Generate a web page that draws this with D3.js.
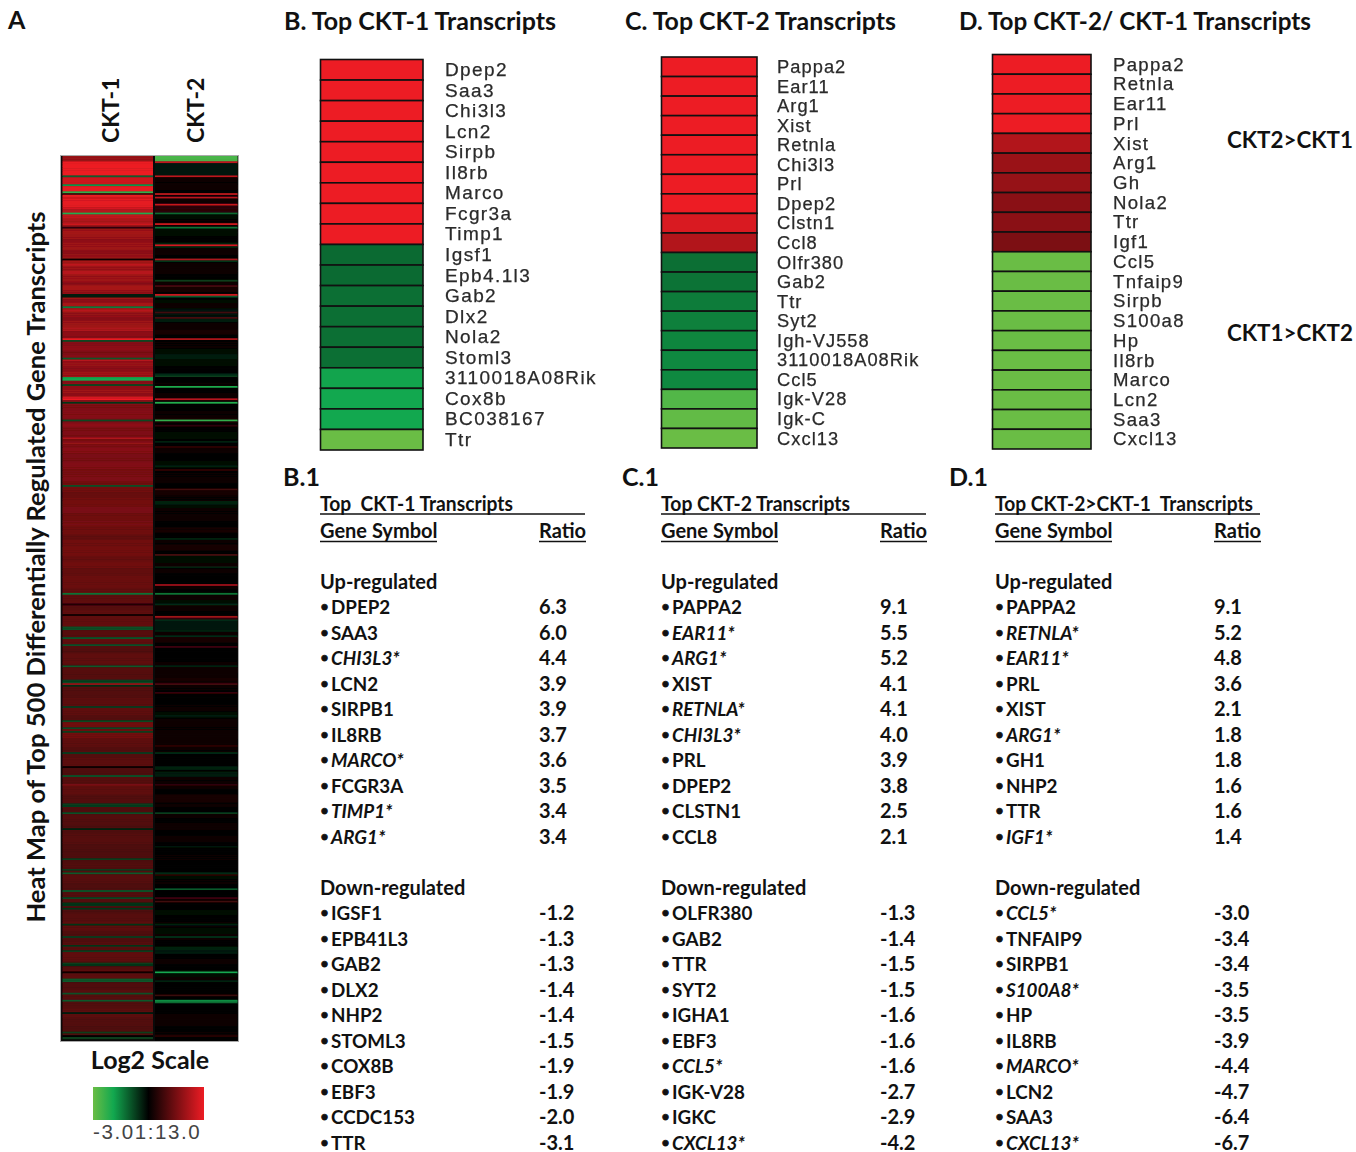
<!DOCTYPE html>
<html><head><meta charset="utf-8">
<script src="https://cdnjs.cloudflare.com/ajax/libs/d3/7.8.5/d3.min.js"></script>
<style>html,body{margin:0;background:#fff}svg{display:block}
.h{font-family:Lato,sans-serif;font-weight:700;fill:#111;white-space:pre}
.g{font-family:"Liberation Sans",sans-serif;fill:#2a2a2a;stroke:#2a2a2a;stroke-width:.25}
</style></head><body><svg id="c" width="1356" height="1152"></svg>
<script>
// Heat map: 500 transcripts, log2 values, run lengths [count, value] plus single-row streaks [row, value]
const ckt1Runs=[[3,1.9],[8,3],[5,2.6],[4,2.9],[3,3],[1,2.6],[5,2.9],[1,2.7],[3,2.3],[2,2.5],[3,2.2],[1,2.6],[3,1.9],[2,2.1],[3,2],[2,1.8],[4,2],[2,1.8],[3,1.9],[3,2.1],[1,2.4],[3,2],[2,2.3],[4,2],[2,1.8],[3,2.1],[2,1.9],[3,2],[2,1.8],[4,2.1],[1,2.3],[3,1.9],[2,1.7],[4,2],[2,2.2],[3,1.8],[5,1.7],[3,1.8],[2,1.6],[4,1.7],[3,1.9],[3,1.8],[3,2],[3,1.7],[4,1.8],[2,2],[3,1.8],[4,1.7],[3,1.6],[4,1.7],[3,1.6],[2,1.8],[5,1.6],[3,1.5],[4,1.6],[3,1.7],[5,1.55],[4,1.65],[3,1.5],[4,1.6],[6,1.45],[3,1.3],[5,1.45],[4,1.55],[4,1.4],[3,1.5],[5,1.4],[3,1.25],[4,1.4],[5,1.45],[3,1.3],[4,1.4],[4,1.25],[3,1.35],[4,1.35],[3,1.25],[6,1.2],[4,1.1],[5,1.2],[4,1.25],[6,1.1],[5,1.2],[4,1.05],[6,1.2],[4,1.1],[5,1.1],[4,1.15],[6,1.05],[5,1.15],[5,1.2],[4,1.05],[3,1.4],[6,1.45],[5,1.2],[6,1.05],[5,1.15],[6,1],[5,1.1],[5,1.2],[6,1.05],[5,1],[6,1.05],[5,1],[6,1.1],[5,1],[6,1],[5,1.05],[6,1.1],[6,1],[5,1.05],[6,1],[5,1.1],[5,1.15],[6,1],[5,1.1],[6,1.2],[5,1.05],[6,1.15],[5,1],[6,1.1],[5,1.05],[5,1.15],[5,1.05],[5,1]];
const ckt1Streaks=[[11,-1.1],[16,-1.7],[20,-2.3],[21,.9],[32,-2.1],[40,.6],[58,.2],[78,-.3],[79,-.3],[85,-1.4],[103,3],[104,-.8],[114,-1],[115,2.3],[125,-1.9],[126,-1.9],[129,-.8],[136,2.7],[137,3],[139,-.6],[149,-.8],[159,2.2],[162,1.9],[186,-.9],[247,-1.3],[253,.4],[259,.2],[266,-.9],[267,-.9],[272,-1],[276,-.9],[288,-1],[296,-.7],[297,-.8],[298,1.9],[299,-.5],[311,-.7],[319,-.8],[323,-.8],[325,-.7],[337,-.7],[345,.1],[350,-1],[355,1.5],[366,-.7],[367,-.7],[371,-.9],[380,-.4],[397,-.7],[403,-.7],[405,-1],[415,-1],[419,-.8],[422,-.6],[423,-.6],[425,-.6],[434,-.6],[441,-.7],[446,-.6],[449,-.7],[456,-.7],[457,-.6],[461,.1],[465,-1],[466,-1],[473,-.9],[477,-1],[484,-.3],[495,-.7],[498,-.7]];
const ckt2Runs=[[3,-2.6],[1,2.4],[7,-.25],[5,.1],[3,.2],[2,.05],[1,.3],[5,.15],[5,.55],[4,-.1],[4,.1],[5,-.15],[4,.05],[3,-.4],[4,.2],[3,.05],[4,.1],[4,.15],[3,.05],[4,.1],[3,.25],[4,.05],[2,-.1],[3,.1],[5,-.2],[3,-.3],[4,.1],[3,.3],[4,-.05],[4,.1],[3,-.1],[3,-.3],[4,-.1],[4,.05],[2,-.5],[3,0],[3,.1],[3,0],[2,.15],[3,.2],[5,.05],[4,.1],[3,.25],[5,.05],[4,-.1],[5,0],[3,.2],[4,.03],[3,-.1],[4,0],[3,.1],[3,.15],[3,.05],[4,.25],[3,.1],[4,-.15],[4,.1],[3,.2],[4,.05],[3,.25],[4,-.05],[3,.1],[3,.3],[3,.05],[4,-.1],[3,.2],[3,.1],[3,-.05],[3,.05],[3,.15],[3,.05],[3,.1],[3,-.1],[3,.15],[3,.05],[4,-.2],[4,-.25],[3,.1],[4,.3],[4,0],[3,-.05],[4,.02],[3,.1],[3,.2],[3,.15],[4,.25],[3,.1],[4,.05],[4,0],[4,.1],[4,-.1],[4,.15],[3,.1],[4,.2],[4,.15],[4,.1],[3,.05],[4,.02],[4,.05],[3,-.3],[3,.1],[4,.2],[3,0],[4,.3],[3,.1],[3,-.02],[3,.2],[3,.08],[4,.12],[3,.05],[4,.1],[4,-.05],[3,0],[3,.1],[4,.08],[3,-.05],[4,-.12],[3,.1],[4,.05],[3,-.03],[3,.12],[4,0],[3,-.15],[4,.02],[3,.1],[4,-.1],[3,.15],[4,-.05],[3,-.2],[4,.05],[3,.1],[3,-.02],[4,-.1],[3,.1],[4,0],[3,-.03],[4,.05],[3,.02],[4,.05],[3,.1],[4,.15],[3,.05],[3,.1],[3,.04]];
const ckt2Streaks=[[11,2.4],[21,2.4],[23,2.3],[27,2.5],[32,-1.2],[38,2.6],[40,-1.3],[50,2.7],[58,2.2],[59,-.6],[70,-.7],[73,.9],[78,2.6],[79,-1],[88,.8],[91,.9],[103,2.2],[124,-.7],[130,-2],[137,2.3],[139,-2.1],[149,-2.3],[152,.6],[161,-.4],[164,.6],[175,-.4],[177,.6],[188,.8],[195,-.4],[196,-.4],[216,-.4],[225,.9],[232,-.4],[242,2],[247,-1.3],[253,-.5],[260,2],[261,.6],[262,-.5],[268,-.4],[271,-.5],[277,.8],[288,-.4],[298,.9],[303,.7],[316,-.3],[333,.6],[337,-.5],[345,-.4],[346,-.4],[355,.6],[371,-.7],[390,-.2],[405,-.5],[406,.5],[414,-1],[419,.8],[421,.8],[434,-.4],[441,-.6],[447,-.4],[448,-.4],[450,-.3],[461,-1.9],[466,-.4],[474,.7],[477,-1.6],[478,-1.2],[497,.5]];

const panelBGenes=["Dpep2","Saa3","Chi3l3","Lcn2","Sirpb","Il8rb","Marco","Fcgr3a","Timp1","Igsf1","Epb4.1l3","Gab2","Dlx2","Nola2","Stoml3","3110018A08Rik","Cox8b","BC038167","Ttr"];
const panelBValues=[6.3,6,4.4,3.9,3.9,3.7,3.6,3.5,3.4,-1.2,-1.2,-1.25,-1.25,-1.25,-1.25,-1.85,-1.9,-1.9,-3.1];
const panelCGenes=["Pappa2","Ear11","Arg1","Xist","Retnla","Chi3l3","Prl","Dpep2","Clstn1","Ccl8","Olfr380","Gab2","Ttr","Syt2","Igh-VJ558","3110018A08Rik","Ccl5","Igk-V28","Igk-C","Cxcl13"];
const panelCValues=[9.1,5.5,5.2,4.1,4.1,4,3.9,3.8,2.75,2.25,-1.25,-1.3,-1.4,-1.45,-1.5,-1.55,-1.55,-2.7,-2.9,-4.2];
const panelDGenes=["Pappa2","Retnla","Ear11","Prl","Xist","Arg1","Gh","Nola2","Ttr","Igf1","Ccl5","Tnfaip9","Sirpb","S100a8","Hp","Il8rb","Marco","Lcn2","Saa3","Cxcl13"];
const panelDValues=[9.1,5.2,4.8,3.6,2.25,1.95,1.9,1.75,1.75,1.57,-3,-3.4,-3.4,-3.5,-3.5,-3.9,-4.4,-4.7,-6.4,-6.7];

const tableBUp=["DPEP2","SAA3","CHI3L3*","LCN2","SIRPB1","IL8RB","MARCO*","FCGR3A","TIMP1*","ARG1*"];
const tableBUpRatio=["6.3","6.0","4.4","3.9","3.9","3.7","3.6","3.5","3.4","3.4"];
const tableBDown=["IGSF1","EPB41L3","GAB2","DLX2","NHP2","STOML3","COX8B","EBF3","CCDC153","TTR"];
const tableBDownRatio=["-1.2","-1.3","-1.3","-1.4","-1.4","-1.5","-1.9","-1.9","-2.0","-3.1"];
const tableCUp=["PAPPA2","EAR11*","ARG1*","XIST","RETNLA*","CHI3L3*","PRL","DPEP2","CLSTN1","CCL8"];
const tableCUpRatio=["9.1","5.5","5.2","4.1","4.1","4.0","3.9","3.8","2.5","2.1"];
const tableCDown=["OLFR380","GAB2","TTR","SYT2","IGHA1","EBF3","CCL5*","IGK-V28","IGKC","CXCL13*"];
const tableCDownRatio=["-1.3","-1.4","-1.5","-1.5","-1.6","-1.6","-1.6","-2.7","-2.9","-4.2"];
const tableDUp=["PAPPA2","RETNLA*","EAR11*","PRL","XIST","ARG1*","GH1","NHP2","TTR","IGF1*"];
const tableDUpRatio=["9.1","5.2","4.8","3.6","2.1","1.8","1.8","1.6","1.6","1.4"];
const tableDDown=["CCL5*","TNFAIP9","SIRPB1","S100A8*","HP","IL8RB","MARCO*","LCN2","SAA3","CXCL13*"];
const tableDDownRatio=["-3.0","-3.4","-3.4","-3.5","-3.5","-3.9","-4.4","-4.7","-6.4","-6.7"];

const svg=d3.select("#c");
const defs=svg.append("defs");
defs.append("filter").attr("id","soft").attr("x","-5%").attr("y","-5%").attr("width","110%").attr("height","110%")
  .append("feGaussianBlur").attr("stdDeviation","0.3 0.6");
defs.append("filter").attr("id","txt").attr("x","-5%").attr("y","-20%").attr("width","110%").attr("height","140%")
  .append("feGaussianBlur").attr("stdDeviation","0.3");

const heat=d3.scaleLinear().domain([-3,-1.9,0,3]).range(["#6abd45","#12a84f","#000000","#ed1c24"]).clamp(true);

function expand(runs,streaks){
  const out=runs.flatMap(([n,v])=>d3.range(n).map(()=>v)).slice(0,500);
  streaks.forEach(([r,v])=>{out[r]=v;});
  return out;
}
const columns=[{name:"CKT-1",values:expand(ckt1Runs,ckt1Streaks),x0:62.5,x1:153,lx:119},
               {name:"CKT-2",values:expand(ckt2Runs,ckt2Streaks),x0:155,x1:237.5,lx:204}];
const rowY=d3.scaleBand().domain(d3.range(500)).range([156,1040.5]);

svg.append("rect").attr("x",60.5).attr("y",155.5).attr("width",178).attr("height",886)
  .attr("fill","#0a0a0a").attr("stroke","#aaa").attr("stroke-width",1);
const hm=svg.append("g").attr("filter","url(#soft)");
columns.forEach(col=>{
  hm.append("g").selectAll("rect").data(col.values).join("rect")
    .attr("x",col.x0).attr("width",col.x1-col.x0)
    .attr("y",(d,i)=>rowY(i)).attr("height",rowY.bandwidth()+0.4)
    .attr("fill",d=>heat(d));
  svg.append("text").attr("class","h").attr("font-size",23)
    .attr("transform",`translate(${col.lx},143) rotate(-90)`).text(col.name);
});

// Text labels
const T=(x,y,s,size,anchor,len)=>{
  const t=svg.append("text").attr("class","h").attr("x",x).attr("y",y).attr("font-size",size).attr("text-anchor",anchor||"start").text(s);
  if(len) t.attr("textLength",len).attr("lengthAdjust","spacingAndGlyphs");
  return t;
};
T(8,29,"A",25);
T(284,30,"B. Top CKT-1 Transcripts",25.5,"start",272);
T(625,30,"C. Top CKT-2 Transcripts",25.5,"start",271);
T(959,30,"D. Top CKT-2/ CKT-1 Transcripts",25.5,"start",352);
T(1227,148,"CKT2>CKT1",23,"start",126);
T(1227,341,"CKT1>CKT2",23,"start",126);
T(150,1069,"Log2 Scale",25,"middle");
svg.append("text").attr("class","h").attr("font-size",25.6).attr("text-anchor","middle")
  .attr("transform","translate(45,567) rotate(-90)").text("Heat Map of Top 500 Differentially Regulated Gene Transcripts");

// Colour key
const keyX=d3.scaleLinear().domain([-3,3]).range([93,204]);
const grad=defs.append("linearGradient").attr("id","key");
heat.domain().forEach(v=>grad.append("stop").attr("offset",(v+3)/6).attr("stop-color",heat(v)));
svg.append("rect").attr("x",keyX(-3)).attr("y",1087).attr("width",keyX(3)-keyX(-3)).attr("height",33).attr("fill","url(#key)");
svg.append("text").attr("class","g").attr("x",93).attr("y",1139).attr("font-size",20.5).style("letter-spacing","1.6px").style("fill","#444").style("stroke","none").text("-3.01:13.0");

// Gene colour panels
function panel(genes,vals,x0,x1,y0,y1,lx,fs,ls){
  const y=d3.scaleBand().domain(genes).range([y0,y1]);
  const g=svg.append("g");
  g.selectAll("rect").data(genes).join("rect")
    .attr("x",x0).attr("width",x1-x0).attr("y",d=>y(d)).attr("height",y.bandwidth())
    .attr("fill",(d,i)=>heat(vals[i])).attr("stroke","#111").attr("stroke-width",1.6);
  svg.append("g").attr("filter","url(#txt)").selectAll("text").data(genes).join("text").attr("class","g")
    .attr("x",lx).attr("y",d=>y(d)+y.bandwidth()/2+6.3).attr("font-size",fs).style("letter-spacing",ls+"px").text(d=>d);
}
panel(panelBGenes,panelBValues,320.5,423,59.5,450,445,19,1.4);
panel(panelCGenes,panelCValues,661.5,757,57,448,777,18.3,1.05);
panel(panelDGenes,panelDValues,992.5,1091,54.5,449,1113,18.6,1.3);

// Tables
function table(tag,tagX,title,titleLen,x,ruleEnd,rx,up,upR,down,downR){
  T(tagX,486,tag,25);
  T(x,511,title,20,"start",titleLen);
  svg.append("line").attr("x1",x).attr("x2",ruleEnd).attr("y1",514).attr("y2",514).attr("stroke","#111").attr("stroke-width",1.6);
  T(x,538,"Gene Symbol",20);
  svg.append("line").attr("x1",x).attr("x2",x+117).attr("y1",541.5).attr("y2",541.5).attr("stroke","#111").attr("stroke-width",1.5);
  T(rx,538,"Ratio",20);
  svg.append("line").attr("x1",rx).attr("x2",rx+47).attr("y1",541.5).attr("y2",541.5).attr("stroke","#111").attr("stroke-width",1.5);
  const row=d3.scaleLinear().domain([0,22]).range([588.5,1149.5]);
  T(x,row(0),"Up-regulated",20);
  T(x,row(12),"Down-regulated",20);
  const rows=(names,vals,off)=>names.forEach((n,i)=>{
    const yy=row(off+i);
    svg.append("text").attr("class","h").attr("x",x+1).attr("y",yy).attr("font-size",20)
      .style("font-family","'Liberation Sans',sans-serif").style("stroke","#111").style("stroke-width",0.8).text("•");
    svg.append("text").attr("class","h").attr("x",x+11).attr("y",yy).attr("font-size",18.8)
      .style("font-style",n.endsWith("*")?"italic":"normal").text(n);
    T(rx,yy,vals[i],20);
  });
  rows(up,upR,1); rows(down,downR,13);
}
table("B.1",283,"Top  CKT-1 Transcripts",193,320,585,539,tableBUp,tableBUpRatio,tableBDown,tableBDownRatio);
table("C.1",622,"Top CKT-2 Transcripts",189,661,926,880,tableCUp,tableCUpRatio,tableCDown,tableCDownRatio);
table("D.1",949,"Top CKT-2>CKT-1  Transcripts",258,995,1260,1214,tableDUp,tableDUpRatio,tableDDown,tableDDownRatio);
</script></body></html>
